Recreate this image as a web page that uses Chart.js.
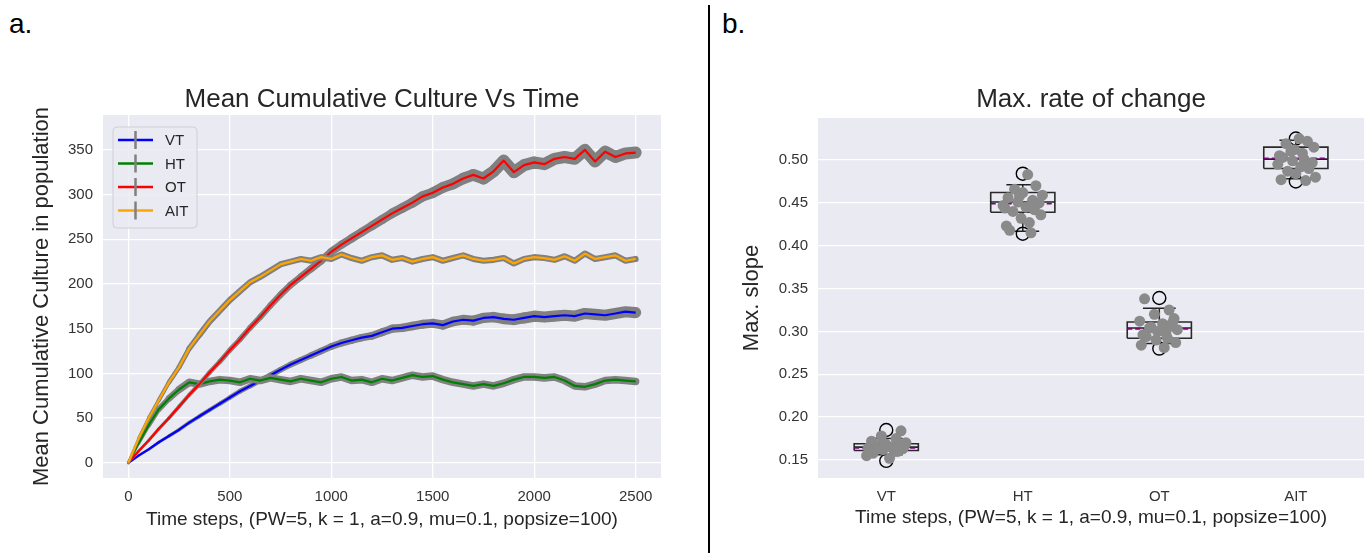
<!DOCTYPE html>
<html>
<head>
<meta charset="utf-8">
<script src="https://cdn.jsdelivr.net/npm/chart.js@4.4.0/dist/chart.umd.min.js"></script>
<style>
  body { margin: 0; background: #fff; width: 1372px; height: 553px; overflow: hidden; position: relative;
         font-family: "Liberation Sans", Arial, sans-serif; }
  .tag { position: absolute; font-size: 28px; color: #000; }
  #divider { position: absolute; left: 708px; top: 5px; width: 2px; height: 548px; background: #000; }
  canvas { position: absolute; top: 0; }
</style>
</head>
<body>
<div class="tag" style="left:9px;top:8px">a.</div>
<div class="tag" style="left:722px;top:8px">b.</div>
<div id="divider"></div>
<canvas id="cultureChart" width="700" height="553" style="left:0"></canvas>
<canvas id="slopeChart" width="660" height="553" style="left:712px"></canvas>
<script>
// ---- panel a: mean cumulative culture ----
const timeSteps = [0,50,100,150,200,250,300,350,400,450,500,550,600,650,700,750,800,850,900,950,
  1000,1050,1100,1150,1200,1250,1300,1350,1400,1450,1500,1550,1600,1650,1700,1750,1800,1850,1900,1950,
  2000,2050,2100,2150,2200,2250,2300,2350,2400,2450,2500];

const vtMean = [0,8,15,23,30,37,45,52,59,66, 73,80,86,92,98,104,110,115,120,125,
  130,134,137,140,142,146,150,151,153,155, 156,154,158,160,159,162,163,161,160,162,
  164,163,164,165,164,167,166,165,167,169, 168];
const htMean = [0,22,42,60,72,82,90,88,91,93, 92,90,94,92,95,93,91,94,92,90,
  94,96,92,93,90,94,92,95,98,96, 97,93,90,88,86,88,86,89,93,96,
  96,95,96,92,86,85,88,92,93,92, 91];
const otMean = [0,13,25,38,50,63,76,88,101,113, 126,138,151,163,176,188,199,208,217,226,
  236,244,251,258,265,272,279,285,291,298, 302,308,312,318,322,318,326,338,325,333,
  336,334,340,342,340,350,337,348,342,346, 347];
const aitMean = [0,27,50,70,90,107,128,143,158,170, 182,192,202,208,215,222,225,228,226,230,
  228,233,229,226,230,232,227,229,225,228, 230,226,229,232,228,226,227,229,223,228,
  230,229,227,231,226,234,228,230,232,226, 228];

const seriesNames = ['VT', 'HT', 'OT', 'AIT'];
const seriesColors = ['#0000ff', '#008000', '#ff0000', '#ffa500'];
const seriesValues = [vtMean, htMean, otMean, aitMean];
const errHalf = [5, 3, 5.5, 2.2];        // approx. error bar half-height at plateau
const errRamp = [2000, 300, 1800, 400];

const cultureXTicks = [0, 500, 1000, 1500, 2000, 2500];
const cultureYTicks = [0, 50, 100, 150, 200, 250, 300, 350];

// ---- panel b: max rate of change ----
const groups = ['VT', 'HT', 'OT', 'AIT'];
const boxQ1 = [0.161, 0.439, 0.292, 0.490];
const boxMedian = [0.165, 0.451, 0.304, 0.501];
const boxQ3 = [0.169, 0.462, 0.311, 0.515];
const whiskerLow = [0.156, 0.417, 0.286, 0.478];
const whiskerHigh = [0.175, 0.471, 0.327, 0.523];
const groupMean = [0.164, 0.449, 0.303, 0.502];
const outliers = [[0.185, 0.149], [0.484, 0.414], [0.339, 0.280], [0.525, 0.475]];

const vtSlopes = [0.158,0.160,0.162,0.163,0.164,0.165,0.166,0.167,0.168,0.170,0.172,0.175,0.178,0.184,0.155,0.152,0.160,0.163,0.166,0.169];
const htSlopes = [0.483,0.470,0.466,0.462,0.459,0.456,0.453,0.451,0.449,0.447,0.445,0.442,0.440,0.436,0.432,0.427,0.423,0.418,0.415,0.458,0.450,0.444];
const otSlopes = [0.338,0.325,0.320,0.315,0.312,0.309,0.306,0.304,0.302,0.300,0.298,0.296,0.294,0.292,0.290,0.287,0.284,0.281,0.310,0.305];
const aitSlopes = [0.525,0.522,0.519,0.515,0.512,0.508,0.505,0.503,0.501,0.499,0.497,0.495,0.492,0.490,0.487,0.484,0.480,0.477,0.476,0.510];
const groupSlopes = [vtSlopes, htSlopes, otSlopes, aitSlopes];
const jitter = [-0.08,0.05,-0.02,0.10,-0.11,0.03,0.08,-0.05,0.00,0.12,-0.09,0.06,-0.03,0.09,-0.12,0.02,0.07,-0.06,0.11,-0.01,0.04,-0.10];

const slopeYTicks = [0.15, 0.20, 0.25, 0.30, 0.35, 0.40, 0.45, 0.50];

Chart.defaults.font.family = '"Liberation Sans", Arial, sans-serif';
Chart.defaults.color = '#333';
Chart.defaults.animation = false;

const BG = '#eaeaf2';
const tickFont = { size: 15 };

const plotBackground = {
  id: 'plotBackground',
  beforeDraw(chart) {
    const { ctx, chartArea: a } = chart;
    ctx.save();
    ctx.fillStyle = BG;
    ctx.fillRect(a.left, a.top, a.right - a.left, a.bottom - a.top);
    ctx.restore();
  }
};

function titlePlugin(text) {
  return {
    id: 'panelTitle',
    afterDraw(chart) {
      const { ctx, chartArea: a } = chart;
      ctx.save();
      ctx.font = '26px "Liberation Sans", Arial, sans-serif';
      ctx.fillStyle = '#262626';
      ctx.textAlign = 'center';
      ctx.textBaseline = 'middle';
      ctx.fillText(text, (a.left + a.right) / 2, 100);
      ctx.restore();
    }
  };
}

const cultureLegend = {
  id: 'cultureLegend',
  afterDatasetsDraw(chart) {
    const { ctx, chartArea: a } = chart;
    const x = a.left + 10, y = a.top + 12, w = 84, h = 101;
    ctx.save();
    ctx.beginPath();
    ctx.roundRect(x, y, w, h, 4);
    ctx.fillStyle = 'rgba(234,234,242,0.85)';
    ctx.fill();
    ctx.strokeStyle = '#cfcfd6';
    ctx.lineWidth = 1;
    ctx.stroke();
    ctx.font = '15px "Liberation Sans", Arial, sans-serif';
    ctx.textBaseline = 'middle';
    seriesNames.forEach((name, i) => {
      const ry = y + 13 + i * 23.5;
      ctx.strokeStyle = seriesColors[i];
      ctx.lineWidth = 2.5;
      ctx.beginPath(); ctx.moveTo(x + 5, ry); ctx.lineTo(x + 40, ry); ctx.stroke();
      ctx.strokeStyle = '#808080';
      ctx.beginPath(); ctx.moveTo(x + 22.5, ry - 9); ctx.lineTo(x + 22.5, ry + 9); ctx.stroke();
      ctx.fillStyle = '#262626';
      ctx.fillText(name, x + 52, ry + 1);
    });
    ctx.restore();
  }
};

function errorWidth(i) {
  return c => {
    const t = timeSteps[c.p1DataIndex];
    const ys = c.chart.scales.y;
    const pxPerUnit = Math.abs(ys.getPixelForValue(0) - ys.getPixelForValue(1));
    return 2.2 + 2 * errHalf[i] * Math.min(1, t / errRamp[i]) * pxPerUnit;
  };
}

const cultureSets = [];
seriesValues.forEach((vals, i) => {
  const pts = vals.map((v, k) => ({ x: timeSteps[k], y: v }));
  cultureSets.push({
    label: seriesNames[i] + ' err', data: pts, borderColor: '#808080', borderWidth: 2.2,
    borderCapStyle: 'round', borderJoinStyle: 'round', pointRadius: 0, tension: 0,
    order: 7 - 2 * i, segment: { borderWidth: errorWidth(i) }
  });
  cultureSets.push({
    label: seriesNames[i], data: pts, borderColor: seriesColors[i], borderWidth: 2.2,
    borderJoinStyle: 'round', pointRadius: 0, tension: 0, order: 6 - 2 * i
  });
});

new Chart(document.getElementById('cultureChart'), {
  type: 'line',
  data: { datasets: cultureSets },
  options: {
    responsive: false,
    layout: { padding: { top: 115, left: 0, right: 39, bottom: 0 } },
    plugins: { legend: { display: false }, tooltip: { enabled: false } },
    scales: {
      x: {
        type: 'linear', min: -125, max: 2625,
        afterBuildTicks: s => { s.ticks = cultureXTicks.map(v => ({ value: v })); },
        afterFit: s => { s.height = 75; },
        grid: { color: '#ffffff', lineWidth: 1.3, drawTicks: false },
        border: { display: false },
        ticks: { font: tickFont, padding: 10, maxRotation: 0, callback: v => String(v) },
        title: { display: true, text: 'Time steps, (PW=5, k = 1, a=0.9, mu=0.1, popsize=100)',
                 font: { size: 19 }, color: '#262626', padding: { top: 0, bottom: 22 } }
      },
      y: {
        type: 'linear', min: -17, max: 389,
        afterBuildTicks: s => { s.ticks = cultureYTicks.map(v => ({ value: v })); },
        afterFit: s => { s.width = 103; },
        grid: { color: '#ffffff', lineWidth: 1.3, drawTicks: false },
        border: { display: false },
        ticks: { font: tickFont, padding: 10, callback: v => String(v) },
        title: { display: true, text: 'Mean Cumulative Culture in population',
                 font: { size: 22 }, color: '#262626', padding: { top: 29, bottom: 0 } }
      }
    }
  },
  plugins: [plotBackground, titlePlugin('Mean Cumulative Culture Vs Time'), cultureLegend]
});

// ---- build box plot pieces from the stats ----
const boxHalf = 0.235, capHalf = 0.12;
const boxPts = [], whiskerPts = [], capPts = [], medianPts = [], meanPts = [], outlierPts = [], stripPts = [];
groups.forEach((g, i) => {
  boxPts.push({ x: i - boxHalf, y: boxQ1[i] }, { x: i + boxHalf, y: boxQ1[i] }, { x: i + boxHalf, y: boxQ3[i] },
              { x: i - boxHalf, y: boxQ3[i] }, { x: i - boxHalf, y: boxQ1[i] }, { x: i, y: null });
  whiskerPts.push({ x: i, y: boxQ3[i] }, { x: i, y: whiskerHigh[i] }, { x: i, y: null },
                  { x: i, y: boxQ1[i] }, { x: i, y: whiskerLow[i] }, { x: i, y: null });
  capPts.push({ x: i - capHalf, y: whiskerHigh[i] }, { x: i + capHalf, y: whiskerHigh[i] }, { x: i, y: null },
              { x: i - capHalf, y: whiskerLow[i] }, { x: i + capHalf, y: whiskerLow[i] }, { x: i, y: null });
  medianPts.push({ x: i - boxHalf, y: boxMedian[i] }, { x: i + boxHalf, y: boxMedian[i] }, { x: i, y: null });
  meanPts.push({ x: i - boxHalf, y: groupMean[i] }, { x: i + boxHalf, y: groupMean[i] }, { x: i, y: null });
  outliers[i].forEach(v => outlierPts.push({ x: i, y: v }));
  groupSlopes[i].forEach((v, k) => stripPts.push({ x: i + jitter[(k + i * 5) % jitter.length] * 1.2, y: v }));
});

const lineSet = (data, color, width, order, dash) => ({
  data, borderColor: color, borderWidth: width, borderDash: dash || [], showLine: true,
  spanGaps: false, pointRadius: 0, order
});

new Chart(document.getElementById('slopeChart'), {
  type: 'scatter',
  data: {
    datasets: [
      { data: stripPts, backgroundColor: '#8a8a8a', borderWidth: 0, pointRadius: 5.5, order: 0 },
      { data: outlierPts, backgroundColor: 'rgba(0,0,0,0)', borderColor: '#000', borderWidth: 1.4,
        pointRadius: 6.5, order: 1 },
      lineSet(meanPts, '#800080', 1.6, 2, [5, 3]),
      lineSet(medianPts, '#222222', 1.6, 3),
      lineSet(capPts, '#222222', 1.5, 4),
      lineSet(whiskerPts, '#222222', 1.5, 5),
      lineSet(boxPts, '#2a2a2a', 1.6, 6)
    ]
  },
  options: {
    responsive: false,
    layout: { padding: { top: 118, left: 0, right: 6, bottom: 0 } },
    plugins: { legend: { display: false }, tooltip: { enabled: false } },
    scales: {
      x: {
        type: 'linear', min: -0.5, max: 3.5,
        afterBuildTicks: s => { s.ticks = groups.map((g, i) => ({ value: i })); },
        afterFit: s => { s.height = 75; },
        grid: { display: false },
        border: { display: false },
        ticks: { font: tickFont, padding: 2, callback: v => groups[v] },
        title: { display: true, text: 'Time steps, (PW=5, k = 1, a=0.9, mu=0.1, popsize=100)',
                 font: { size: 19 }, color: '#262626', padding: { top: 0, bottom: 24 } }
      },
      y: {
        type: 'linear', min: 0.129, max: 0.549,
        afterBuildTicks: s => { s.ticks = slopeYTicks.map(v => ({ value: v })); },
        afterFit: s => { s.width = 106; },
        grid: { color: '#ffffff', lineWidth: 1.3, drawTicks: false },
        border: { display: false },
        ticks: { font: tickFont, padding: 10, callback: v => v.toFixed(2) },
        title: { display: true, text: 'Max. slope', font: { size: 22 }, color: '#262626',
                 padding: { top: 27, bottom: 0 } }
      }
    }
  },
  plugins: [plotBackground, titlePlugin('Max. rate of change')]
});
</script>
</body>
</html>
